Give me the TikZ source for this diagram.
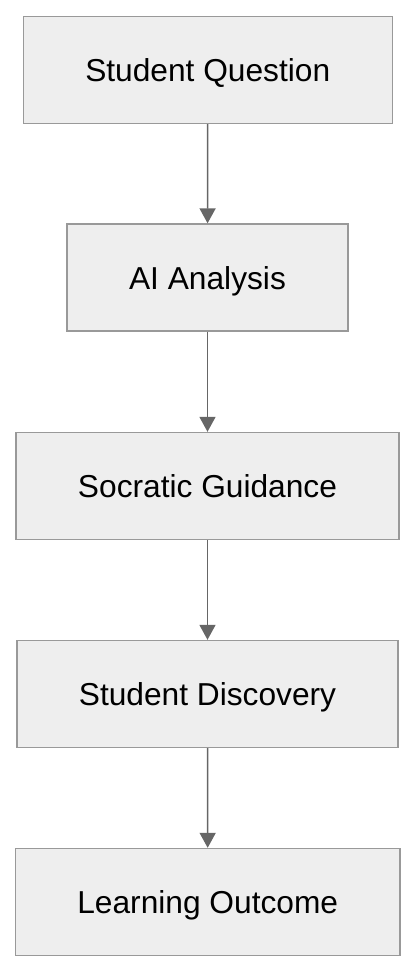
\documentclass[tikz,border=0pt]{standalone}
\usepackage{fontspec}
\setmainfont{Liberation Sans}
\usepackage{tikz}
\usetikzlibrary{arrows.meta, positioning}

\definecolor{boxfill}{HTML}{EEEEEE}
\definecolor{boxline}{HTML}{999999}
\definecolor{flowline}{HTML}{666666}

\begin{document}
\begin{tikzpicture}[
    stage/.style={
        rectangle,
        draw=boxline,
        fill=boxfill,
        line width=1.4pt,
        minimum height=107pt,
        inner xsep=62pt,
        font=\fontsize{31.7}{36}\selectfont,
        text height=24.5pt,
        text depth=1.5pt
    },
    flow/.style={
        draw=flowline,
        line width=1.6pt,
        -{Triangle[width=16pt, length=15pt]}
    }
]
\useasboundingbox (0,0) rectangle (416pt,-972pt);

\node[stage] (question) at (207.75pt, -70pt) {Student Question};
\node[stage] (analysis) at (207.5pt, -277.5pt) {AI Analysis};
\node[stage] (guidance) at (207.5pt, -486pt) {Socratic Guidance};
\node[stage] (discovery) at (207.5pt, -694pt) {Student Discovery};
\node[stage] (outcome) at (207.75pt, -902pt) {Learning Outcome};

\draw[flow] (question) -- (analysis);
\draw[flow] (analysis) -- (guidance);
\draw[flow] (guidance) -- (discovery);
\draw[flow] (discovery) -- (outcome);

\end{tikzpicture}
\end{document}
